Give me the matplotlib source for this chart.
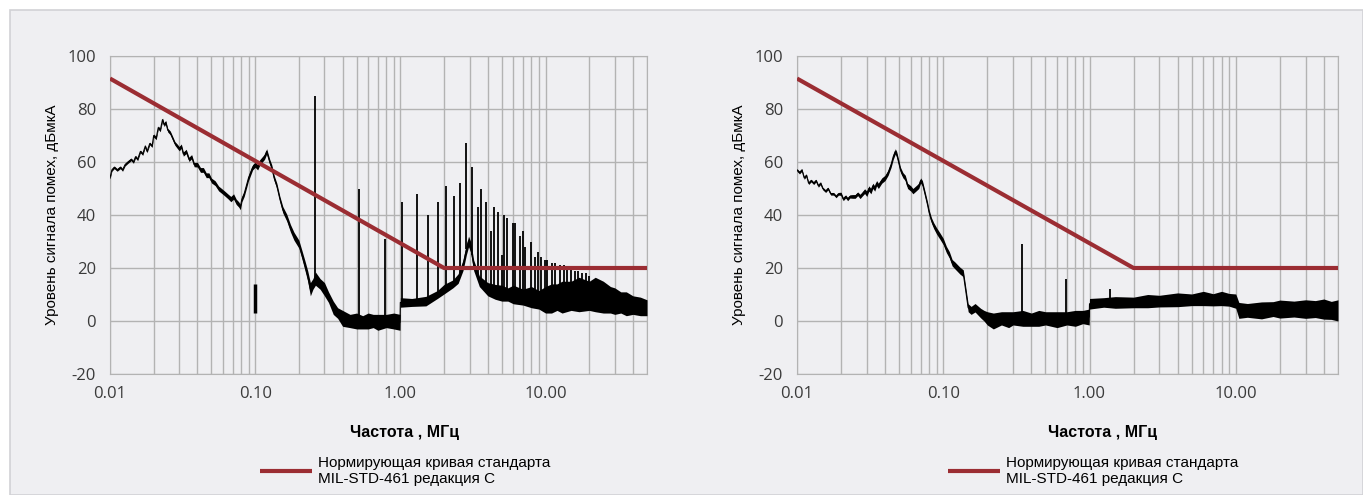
import matplotlib
matplotlib.use('Agg')
import matplotlib.pyplot as plt
from matplotlib.patches import Rectangle
from matplotlib.ticker import FixedLocator, FixedFormatter, LogLocator, NullFormatter

plt.rcParams['axes.unicode_minus'] = False

# ---- data ----
x_ticks = [0.01, 0.1, 1.0, 10.0]
x_tick_labels = ['0.01', '0.10', '1.00', '10.00']
y_ticks = [-20, 0, 20, 40, 60, 80, 100]

# MIL-STD-461C limit curve
limit_f = [0.01, 2.0, 50.0]
limit_db = [91.5, 20.0, 20.0]

# left chart: measured trace (centre of the noise band and its half width)
left_f = [0.0100, 0.0103, 0.0107, 0.0112, 0.0118, 0.0122, 0.0127, 0.0133, 0.0140, 0.0145,
          0.0150, 0.0155, 0.0162, 0.0168, 0.0175, 0.0180, 0.0188, 0.0195, 0.0200, 0.0208,
          0.0215, 0.0222, 0.0230, 0.0236, 0.0242, 0.0250, 0.0260, 0.0270, 0.0280, 0.0290,
          0.0300, 0.0310, 0.0320, 0.0335, 0.0350, 0.0365, 0.0380, 0.0400, 0.0420, 0.0440,
          0.0460, 0.0480, 0.0500, 0.0530, 0.0560, 0.0590, 0.0620, 0.0650, 0.0680, 0.0710,
          0.0740, 0.0770, 0.0790, 0.0810, 0.0840, 0.0870, 0.0900, 0.0930, 0.0960, 0.1000,
          0.1040, 0.1080, 0.1120, 0.1160, 0.1200, 0.1230, 0.1260, 0.1300, 0.1350, 0.1410,
          0.1480, 0.1550, 0.1650, 0.1750, 0.1850, 0.2000, 0.2100, 0.2200, 0.2300, 0.2400,
          0.2500, 0.2600, 0.2800, 0.3000, 0.3200, 0.3450, 0.3700, 0.4000, 0.4500, 0.5000,
          0.5500, 0.6000, 0.6500, 0.7000, 0.8000, 0.9000, 0.9950, 1.0000, 1.2000, 1.5000,
          1.8000, 2.0000, 2.3000, 2.5000, 2.7000, 2.8500, 2.9500, 3.0500, 3.2000, 3.5000,
          4.0000, 4.5000, 5.0000, 5.5000, 6.0000, 7.0000, 8.0000, 9.0000, 10.000, 11.000,
          12.000, 13.000, 15.000, 17.000, 20.000, 22.000, 25.000, 28.000, 30.000, 33.000,
          36.000, 40.000, 45.000, 50.000]
left_db = [54, 57, 58, 57, 58, 57, 59, 60, 61, 60,
           62, 61, 64, 63, 66, 64, 67, 66, 70, 69,
           73, 72, 76, 74, 75, 72, 71, 69, 67, 66,
           65, 66, 63, 64, 61, 62, 59, 59, 57, 57,
           55, 55, 53, 52, 50, 49, 48, 47, 46, 47,
           45, 44, 43, 46, 48, 51, 54, 56, 58, 59,
           58, 60, 61, 62, 64, 62, 60, 58, 54, 51,
           46, 42, 39, 35, 32, 29, 25, 21, 17, 12,
           14, 16, 14, 12, 9, 5, 3, 1, 0, 0,
           -0.5, 0, 0, -0.5, 0, 0, -0.5, 7, 7, 7.5,
           10, 12, 14, 16, 21, 27, 30, 28, 21, 15,
           12, 11, 10.5, 10, 10, 9, 9, 8, 8, 8.5,
           9, 9, 9.5, 10, 9.5, 10, 9, 8, 7.5, 7,
           6.5, 6, 5.5, 5]
left_hw = [0.5, 0.5, 0.5, 0.5, 0.5, 0.5, 0.5, 0.5, 0.5, 0.5,
           0.5, 0.5, 0.5, 0.5, 0.5, 0.5, 0.5, 0.5, 0.6, 0.6,
           0.6, 0.6, 0.6, 0.6, 0.7, 0.7, 0.7, 0.7, 0.7, 0.8,
           0.8, 0.8, 0.8, 0.8, 0.8, 0.8, 0.8, 0.9, 0.9, 0.9,
           0.9, 0.9, 0.9, 0.9, 0.9, 0.9, 0.9, 0.9, 1.0, 1.0,
           1.0, 1.0, 1.0, 1.0, 1.0, 1.0, 1.0, 1.0, 1.0, 1.0,
           1.0, 1.0, 1.0, 1.0, 1.0, 1.0, 1.0, 1.0, 1.0, 1.0,
           1.0, 1.2, 1.3, 1.4, 1.5, 1.5, 1.6, 1.8, 2.0, 2.5,
           2.0, 2.5, 2.0, 2.5, 2.0, 2.5, 2.0, 3.0, 2.5, 3.0,
           2.5, 3.0, 2.5, 3.0, 2.5, 3.0, 3.0, 1.8, 1.5, 1.8,
           1.5, 1.8, 1.5, 1.8, 2.0, 2.0, 2.0, 2.0, 2.0, 2.0,
           2.5, 2.8, 3.0, 2.5, 3.5, 3.0, 4.0, 3.5, 5.0, 5.5,
           5.0, 6.0, 5.5, 6.5, 5.5, 6.5, 6.0, 5.0, 5.0, 4.0,
           4.5, 3.5, 3.5, 3.0]

# left chart: narrow-band spikes (frequency, peak, foot)
left_spike_f = [0.26, 0.52, 0.78, 1.03, 1.31, 1.56, 1.83, 2.07, 2.35, 2.59,
                2.85, 3.14, 3.40, 3.62, 3.92, 4.18, 4.45, 4.74, 5.05, 5.21,
                5.47, 6.01, 6.21, 6.62, 7.04, 7.27, 7.88, 8.40, 8.81, 9.25,
                9.85, 10.3, 11.0, 11.7, 12.5, 13.3, 14.1, 15.0, 15.9, 16.8,
                17.8, 18.9, 20.0]
left_spike_top = [85, 50, 31, 45, 48, 40, 45, 51, 47, 52,
                  67, 58, 43, 50, 45, 34, 43, 41, 25, 40,
                  39, 37, 37, 32, 34, 28, 30, 24, 26, 24,
                  23, 23, 22, 22, 21, 21, 20, 20, 19, 19,
                  18, 18, 17]
left_spike_foot = [16, 0, 0, 7, 7, 8, 10, 12, 14, 17,
                   27, 25, 17, 15, 13, 12, 12, 11, 10, 10,
                   10, 9, 9, 9, 9, 9, 8, 8, 8, 8,
                   8, 8, 9, 9, 9, 10, 10, 10, 10, 10,
                   10, 10, 10]
left_bar_f = [0.1]
left_bar_lo = [3]
left_bar_hi = [14]

# right chart: measured trace
right_f = [0.0100, 0.0104, 0.0108, 0.0112, 0.0116, 0.0120, 0.0125, 0.0130, 0.0135, 0.0140,
           0.0145, 0.0150, 0.0157, 0.0163, 0.0170, 0.0178, 0.0185, 0.0192, 0.0200, 0.0207,
           0.0215, 0.0222, 0.0230, 0.0240, 0.0250, 0.0260, 0.0270, 0.0280, 0.0290, 0.0300,
           0.0310, 0.0320, 0.0330, 0.0340, 0.0350, 0.0360, 0.0380, 0.0400, 0.0420, 0.0440,
           0.0455, 0.0470, 0.0480, 0.0495, 0.0510, 0.0530, 0.0550, 0.0570, 0.0600, 0.0620,
           0.0650, 0.0680, 0.0700, 0.0720, 0.0750, 0.0780, 0.0800, 0.0830, 0.0860, 0.0900,
           0.0950, 0.1000, 0.1050, 0.1100, 0.1150, 0.1200, 0.1300, 0.1370, 0.1420, 0.1480,
           0.1550, 0.1650, 0.1800, 0.1900, 0.2000, 0.2200, 0.2500, 0.2800, 0.3000, 0.3500,
           0.4000, 0.4500, 0.5000, 0.6000, 0.7000, 0.8000, 0.9000, 0.9950, 1.0000, 1.2500,
           1.5000, 2.0000, 2.5000, 3.0000, 4.0000, 5.0000, 6.0000, 7.0000, 8.0000, 9.0000,
           10.000, 10.500, 12.000, 15.000, 18.000, 20.000, 25.000, 30.000, 35.000, 40.000,
           45.000, 50.000]
right_db = [57, 56, 57, 54, 55, 52, 53, 52, 53, 51,
            52, 50, 49, 50, 48, 48, 47, 48, 48, 46,
            47, 46, 47, 47, 47, 48, 47, 48, 49, 48,
            50, 49, 51, 50, 52, 51, 53, 54, 56, 59,
            62, 64, 63, 60, 57, 55, 54, 51, 50, 49,
            50, 51, 53, 52, 48, 44, 41, 38, 36, 34,
            32, 30, 27, 25, 22, 21, 19, 18, 12, 5,
            4, 5, 3, 2, 1, 0, 1, 0.5, 1, 1,
            0.5, 1, 1, 0.5, 1, 1, 1.5, 1.5, 6.5, 7,
            7, 7, 7.5, 7.5, 8, 8, 8.5, 8, 8.5, 8,
            7.5, 4, 4, 4, 4.5, 4.5, 4.5, 4.5, 4.5, 4.5,
            4, 4]
right_hw = [0.5, 0.5, 0.5, 0.5, 0.5, 0.5, 0.5, 0.5, 0.5, 0.5,
            0.5, 0.5, 0.5, 0.5, 0.5, 0.5, 0.5, 0.5, 0.6, 0.6,
            0.6, 0.6, 0.6, 0.7, 0.7, 0.7, 0.8, 0.8, 0.9, 1.0,
            1.0, 1.0, 1.0, 1.0, 1.0, 1.0, 1.0, 1.0, 1.0, 1.0,
            1.0, 1.0, 1.0, 1.0, 1.0, 1.0, 1.0, 1.0, 1.0, 1.0,
            1.0, 1.0, 1.0, 1.0, 1.0, 1.0, 1.0, 1.0, 1.1, 1.2,
            1.2, 1.2, 1.2, 1.2, 1.2, 1.3, 1.3, 1.3, 1.4, 1.5,
            1.5, 1.6, 1.8, 2.0, 2.5, 3.0, 2.5, 3.0, 2.5, 3.0,
            2.5, 3.0, 2.5, 3.0, 2.5, 3.0, 2.5, 3.0, 2.0, 1.8,
            2.2, 2.0, 2.5, 2.2, 2.6, 2.2, 2.7, 2.3, 2.7, 2.4,
            2.7, 3.0, 2.6, 3.2, 2.8, 3.4, 3.0, 3.5, 3.2, 3.8,
            3.4, 4.0]
right_spike_f = [0.348, 0.695, 1.39]
right_spike_top = [29, 16, 12]
right_spike_foot = [1, 2, 7]

legend_text = 'Нормирующая кривая стандарта\nMIL-STD-461 редакция C'

W, H = 1363, 495
panel = '#efeff2'
grid_c = '#b3b3b3'
red = '#9b2d33'

fig = plt.figure(figsize=(W / 100, H / 100), dpi=100, facecolor='white')
fig.patches.append(Rectangle((10 / W, 0), 1 - 10 / W, 485 / H, transform=fig.transFigure,
                             facecolor=panel, edgecolor='#d2d2d6', lw=1.2, zorder=-5))


def draw_panel(rect, f, db, hw, sp_f, sp_top, sp_foot, label_x, legend_x):
    ax = fig.add_axes(rect)
    ax.set_facecolor(panel)
    ax.set_xscale('log')
    ax.set_xlim(0.01, 50)
    ax.set_ylim(-20, 100)

    ax.xaxis.set_major_locator(FixedLocator(x_ticks))
    ax.xaxis.set_major_formatter(FixedFormatter(x_tick_labels))
    ax.xaxis.set_minor_locator(LogLocator(base=10, subs=range(2, 10)))
    ax.xaxis.set_minor_formatter(NullFormatter())
    ax.set_yticks(y_ticks)
    ax.grid(True, which='both', axis='x', color=grid_c, lw=1.0)
    ax.grid(True, which='major', axis='y', color=grid_c, lw=1.0)
    ax.set_axisbelow(True)
    ax.tick_params(which='both', length=0, labelsize=12, colors='#3a3a3a')
    ax.tick_params(axis='x', pad=9)
    ax.tick_params(axis='y', pad=10)
    for lab in ax.get_xticklabels() + ax.get_yticklabels():
        lab.set_family('Open Sans')
    for s in ax.spines.values():
        s.set_color(grid_c)

    lo = [c - h for c, h in zip(db, hw)]
    hi = [c + h for c, h in zip(db, hw)]
    ax.fill_between(f, lo, hi, color='black', lw=0, zorder=3)
    ax.plot(f, db, color='black', lw=0.8, zorder=3)
    ax.vlines(sp_f, sp_foot, sp_top, color='black', lw=1.3, zorder=3)

    line, = ax.plot(limit_f, limit_db, color=red, lw=3, solid_capstyle='butt', zorder=4)

    ax.set_ylabel('Уровень сигнала помех, дБмкА', family='Liberation Sans', fontsize=11,
                  labelpad=6)
    fig.text(label_x / W, 1 - 432 / H, 'Частота , МГц', family='Liberation Sans',
             fontsize=11.5, fontweight='bold', ha='center', va='center')
    fig.legend([line], [legend_text], loc='center left',
               bbox_to_anchor=(legend_x / W, 1 - 471 / H), frameon=False,
               prop={'family': 'Liberation Sans', 'size': 11},
               handlelength=3.4, handletextpad=0.4, borderpad=0, borderaxespad=0,
               labelspacing=0)
    return ax


ax1 = draw_panel([110 / W, 121 / H, 537 / W, 318 / H], left_f, left_db, left_hw,
                 left_spike_f, left_spike_top, left_spike_foot, 404, 260)
ax1.vlines(left_bar_f, left_bar_lo, left_bar_hi, color='black', lw=2.5, zorder=3)

ax2 = draw_panel([797 / W, 121 / H, 541 / W, 318 / H], right_f, right_db, right_hw,
                 right_spike_f, right_spike_top, right_spike_foot, 1102, 948)

fig.savefig('out.png', dpi=100, facecolor='white')
